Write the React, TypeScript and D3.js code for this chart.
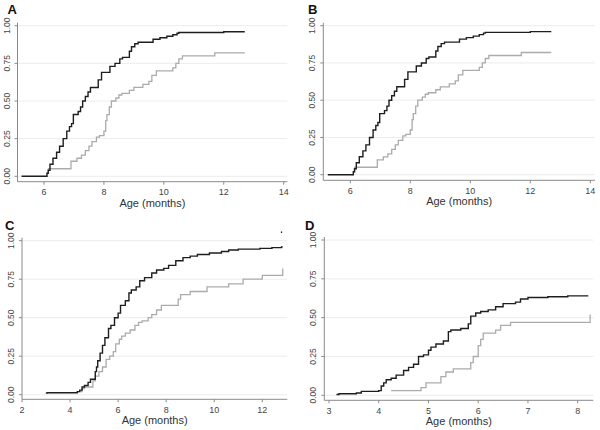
import React from "react";
import * as d3 from "d3";

// Panel A / B (same data)
const abBlackX = [5.25, 6.0, 6.1, 6.14, 6.2, 6.3, 6.42, 6.52, 6.64, 6.76, 6.85, 6.92, 6.98, 7.14, 7.22, 7.29, 7.38, 7.47, 7.55, 7.73, 7.81, 7.92, 8.06, 8.2, 8.37, 8.53, 8.62, 8.76, 8.85, 8.92, 9.03, 9.14, 9.48, 9.64, 9.87, 10.1, 10.3, 10.44, 10.5, 12.0, 12.7];
const abBlackY = [0.0, 0.0, 0.02, 0.04, 0.08, 0.12, 0.16, 0.2, 0.25, 0.3, 0.33, 0.35, 0.41, 0.43, 0.46, 0.5, 0.53, 0.56, 0.59, 0.59, 0.64, 0.69, 0.69, 0.73, 0.75, 0.78, 0.79, 0.79, 0.83, 0.86, 0.88, 0.89, 0.89, 0.91, 0.92, 0.93, 0.94, 0.95, 0.955, 0.96, 0.96];
const abGrayX = [6.09, 6.15, 6.9, 7.1, 7.25, 7.38, 7.5, 7.6, 7.75, 7.85, 8.0, 8.06, 8.1, 8.18, 8.25, 8.4, 8.5, 8.6, 8.85, 9.0, 9.3, 9.5, 9.6, 9.75, 10.3, 10.4, 10.5, 10.62, 11.7, 12.7];
const abGrayY = [0.02, 0.05, 0.1, 0.12, 0.14, 0.17, 0.2, 0.23, 0.26, 0.27, 0.3, 0.37, 0.41, 0.46, 0.5, 0.52, 0.54, 0.55, 0.57, 0.59, 0.61, 0.63, 0.67, 0.7, 0.72, 0.75, 0.78, 0.8, 0.82, 0.82];

// Panel C
const cBlackX = [2.99, 3.05, 4.14, 4.3, 4.4, 4.5, 4.6, 4.75, 4.85, 5.0, 5.05, 5.1, 5.15, 5.25, 5.35, 5.45, 5.6, 5.7, 5.85, 6.0, 6.1, 6.3, 6.45, 6.55, 6.75, 6.9, 7.1, 7.4, 7.6, 7.9, 8.1, 8.4, 8.7, 9.0, 9.3, 9.8, 10.3, 10.6, 11.0, 11.9, 12.4, 12.8, 12.85];
const cBlackY = [0.01, 0.013, 0.013, 0.02, 0.03, 0.05, 0.06, 0.08, 0.1, 0.1, 0.15, 0.18, 0.22, 0.27, 0.32, 0.37, 0.43, 0.45, 0.5, 0.53, 0.58, 0.61, 0.66, 0.68, 0.7, 0.74, 0.76, 0.79, 0.81, 0.82, 0.84, 0.87, 0.89, 0.9, 0.91, 0.92, 0.93, 0.94, 0.945, 0.95, 0.955, 0.96, 0.96];
const cGrayX = [4.3, 4.5, 4.6, 4.95, 5.05, 5.2, 5.35, 5.5, 5.65, 5.8, 5.9, 6.05, 6.15, 6.3, 6.5, 6.7, 6.85, 7.0, 7.25, 7.4, 7.6, 7.8, 8.5, 8.6, 9.0, 9.7, 10.6, 11.2, 12.0, 12.85];
const cGrayY = [0.02, 0.04, 0.05, 0.09, 0.12, 0.15, 0.18, 0.23, 0.25, 0.28, 0.33, 0.36, 0.38, 0.4, 0.42, 0.45, 0.47, 0.48, 0.5, 0.52, 0.55, 0.58, 0.62, 0.65, 0.67, 0.7, 0.72, 0.75, 0.775, 0.82];
const cMarkX = [12.8];
const cMarkY = [1.06];

// Panel D
const dBlackX = [3.15, 3.2, 3.55, 3.65, 4.0, 4.05, 4.1, 4.15, 4.25, 4.35, 4.5, 4.6, 4.7, 4.8, 4.9, 5.0, 5.05, 5.15, 5.3, 5.4, 5.45, 5.65, 5.8, 5.85, 5.95, 6.05, 6.2, 6.35, 6.5, 6.75, 6.85, 7.0, 7.4, 7.8, 8.2];
const dBlackY = [0.005, 0.01, 0.015, 0.025, 0.03, 0.06, 0.08, 0.1, 0.11, 0.13, 0.16, 0.18, 0.2, 0.25, 0.26, 0.29, 0.31, 0.33, 0.35, 0.41, 0.42, 0.43, 0.46, 0.51, 0.53, 0.54, 0.55, 0.57, 0.59, 0.6, 0.62, 0.63, 0.635, 0.64, 0.645];
const dGrayX = [4.25, 4.85, 4.95, 5.25, 5.35, 5.5, 5.85, 5.9, 6.0, 6.05, 6.1, 6.35, 6.45, 6.65, 8.25];
const dGrayY = [0.03, 0.05, 0.08, 0.12, 0.15, 0.17, 0.21, 0.25, 0.32, 0.36, 0.4, 0.42, 0.45, 0.47, 0.52];

const yTicks = [0, 0.25, 0.5, 0.75, 1];
const abXTicks = [6, 8, 10, 12, 14];
const cXTicks = [2, 4, 6, 8, 10, 12];
const dXTicks = [3, 4, 5, 6, 7, 8];
const panelLabels = ["A", "B", "C", "D"];
const xTitle = "Age (months)";

type Series = { xs: number[]; ys: number[] };

type PanelSpec = {
  label: string;
  left: number;
  right: number;
  y0: number;
  y1: number;
  axisY: number;
  xd: [number, number];
  xr: [number, number];
  xTicks: number[];
  labelPos: [number, number];
  black: Series;
  gray: Series;
};

const panels: PanelSpec[] = [
  {
    label: panelLabels[0], left: 17.5, right: 287.3, y0: 176.3, y1: 25.7, axisY: 181.7,
    xd: [6, 14], xr: [44, 283.7], xTicks: abXTicks, labelPos: [7.5, 14],
    black: { xs: abBlackX, ys: abBlackY }, gray: { xs: abGrayX, ys: abGrayY },
  },
  {
    label: panelLabels[1], left: 323.3, right: 595, y0: 174.7, y1: 25.7, axisY: 180.3,
    xd: [6, 14], xr: [350.3, 590.3], xTicks: abXTicks, labelPos: [308, 14],
    black: { xs: abBlackX, ys: abBlackY }, gray: { xs: abGrayX, ys: abGrayY },
  },
  {
    label: panelLabels[2], left: 22, right: 287.3, y0: 394.7, y1: 240.7, axisY: 399.3,
    xd: [2, 12], xr: [22, 262.3], xTicks: cXTicks, labelPos: [5, 229.5],
    black: { xs: cBlackX, ys: cBlackY }, gray: { xs: cGrayX, ys: cGrayY },
  },
  {
    label: panelLabels[3], left: 324.3, right: 593.3, y0: 395.3, y1: 240, axisY: 400.3,
    xd: [3, 8], xr: [329, 577.7], xTicks: dXTicks, labelPos: [305, 229.5],
    black: { xs: dBlackX, ys: dBlackY }, gray: { xs: dGrayX, ys: dGrayY },
  },
];

function Panel({ p, idx }: { p: PanelSpec; idx: number }) {
  const x = d3.scaleLinear().domain(p.xd).range(p.xr);
  const y = d3.scaleLinear().domain([0, 1]).range([p.y0, p.y1]);
  const line = d3
    .line<[number, number]>()
    .x((d) => x(d[0]))
    .y((d) => y(d[1]))
    .curve(d3.curveStepAfter);
  const toPts = (s: Series) => s.xs.map((v, i) => [v, s.ys[i]] as [number, number]);
  const font = "Arial, 'Liberation Sans', sans-serif";
  const axisColor = "#8a8a8a";
  return (
    <g>
      {yTicks.map((t) => (
        <line key={"g" + t} x1={p.left} x2={p.right} y1={y(t)} y2={y(t)} stroke="#ececec" strokeWidth={1} />
      ))}
      <path d={line(toPts(p.gray)) || ""} fill="none" stroke="#ababab" strokeWidth={1.3} />
      <path d={line(toPts(p.black)) || ""} fill="none" stroke="#1e1e1e" strokeWidth={1.4} />
      {idx === 2 && (
        <line x1={x(cMarkX[0])} x2={x(cMarkX[0])} y1={y(cMarkY[0])} y2={y(cMarkY[0]) + 1.5} stroke="#111" strokeWidth={1.2} />
      )}
      <line x1={p.left} x2={p.left} y1={y(1) - 3} y2={p.axisY} stroke={axisColor} strokeWidth={1} />
      <line x1={p.left} x2={p.right} y1={p.axisY} y2={p.axisY} stroke={axisColor} strokeWidth={1} />
      {yTicks.map((t) => (
        <g key={"yt" + t}>
          <line x1={p.left - 3} x2={p.left} y1={y(t)} y2={y(t)} stroke={axisColor} />
          <text
            transform={`translate(${p.left - 8},${y(t)}) rotate(-90)`}
            textAnchor="middle"
            fontSize={8.5}
            fontFamily={font}
            fill="#444"
          >
            {t.toFixed(2)}
          </text>
        </g>
      ))}
      {p.xTicks.map((t) => (
        <g key={"xt" + t}>
          <line x1={x(t)} x2={x(t)} y1={p.axisY} y2={p.axisY + 3} stroke={axisColor} />
          <text x={x(t)} y={p.axisY + 13.5} textAnchor="middle" fontSize={9} fontFamily={font} fill="#444">
            {t}
          </text>
        </g>
      ))}
      <text
        x={(p.left + p.right) / 2}
        y={p.axisY + 25}
        textAnchor="middle"
        fontSize={11}
        fontFamily={font}
        fill="#333"
      >
        {xTitle}
      </text>
      <text x={p.labelPos[0]} y={p.labelPos[1]} fontSize={13} fontWeight="bold" fontFamily={font} fill="#111">
        {p.label}
      </text>
    </g>
  );
}

export default function App() {
  return (
    <svg
      width={600}
      height={430}
      style={{ position: "absolute", left: 0, top: 0, background: "#fff" }}
    >
      <rect width={600} height={430} fill="#fff" />
      {panels.map((p, i) => (
        <Panel key={p.label} p={p} idx={i} />
      ))}
    </svg>
  );
}
